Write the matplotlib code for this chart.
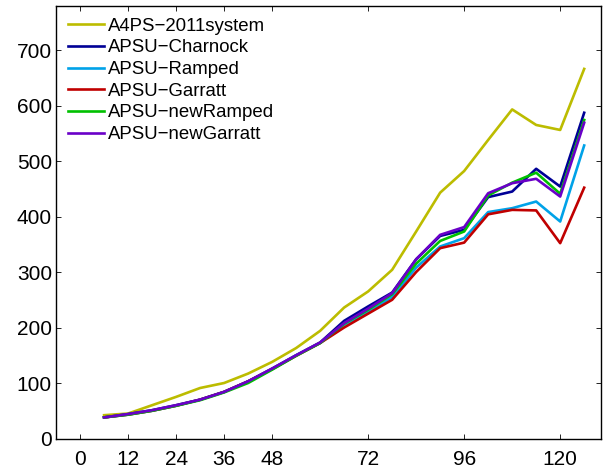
import matplotlib
matplotlib.use('Agg')
import matplotlib.pyplot as plt

plt.rcParams['font.family'] = ['Liberation Sans', 'DejaVu Sans']

# months since start
months = [6, 12, 18, 24, 30, 36, 42, 48, 54, 60, 66, 72, 78, 84, 90, 96, 102, 108, 114, 120, 126]

a4ps_2011 = [42, 45, 60, 75, 91, 100, 117, 138, 163, 194, 236, 265, 304, 373, 443, 482, 538, 593, 565, 556, 666]
charnock = [38, 44, 51, 60, 70, 84, 103, 126, 150, 173, 212, 238, 263, 323, 365, 376, 435, 445, 486, 454, 587]
ramped = [38, 43, 50, 59, 70, 84, 103, 125, 150, 172, 205, 228, 255, 308, 346, 361, 408, 415, 427, 391, 528]
garratt = [38, 43, 50, 59, 70, 84, 103, 125, 149, 172, 200, 225, 250, 300, 343, 353, 404, 412, 411, 352, 452]
new_ramped = [38, 43, 50, 59, 69, 83, 100, 124, 149, 172, 207, 232, 260, 315, 356, 373, 438, 461, 479, 441, 574]
new_garratt = [38, 44, 51, 60, 70, 84, 103, 126, 150, 173, 208, 234, 262, 323, 367, 381, 442, 460, 468, 436, 569]

labels = ['A4PS\u22122011system', 'APSU\u2212Charnock', 'APSU\u2212Ramped',
          'APSU\u2212Garratt', 'APSU\u2212newRamped', 'APSU\u2212newGarratt']
colors = ['#bcbc00', '#000096', '#00a2e8', '#c00000', '#00c000', '#6a00c8']
series = [a4ps_2011, charnock, ramped, garratt, new_ramped, new_garratt]

xticks = [0, 12, 24, 36, 48, 72, 96, 120]
yticks = [0, 100, 200, 300, 400, 500, 600, 700]

fig = plt.figure(figsize=(6.03, 4.71), dpi=100)
ax = fig.add_axes([0.093, 0.069, 0.904, 0.919])

for y, lab, c in zip(series, labels, colors):
    ax.plot(months, y, color=c, lw=1.9, label=lab)

ax.set_xlim(-6, 130.25)
ax.set_ylim(0, 780)
ax.set_xticks(xticks)
ax.set_yticks(yticks)
ax.tick_params(direction='in', top=True, right=True, length=3.5, width=0.6, labelsize=15)
ax.tick_params(axis='x', pad=8)
ax.tick_params(axis='y', pad=3)
for s in ax.spines.values():
    s.set_linewidth(1.0)

ax.legend(loc='upper left', bbox_to_anchor=(0.0, 1.0), frameon=False, fontsize=13.4,
          handlelength=1.9, handletextpad=0.25, labelspacing=0.25, borderaxespad=0.25)

fig.savefig('out.png', dpi=100)
